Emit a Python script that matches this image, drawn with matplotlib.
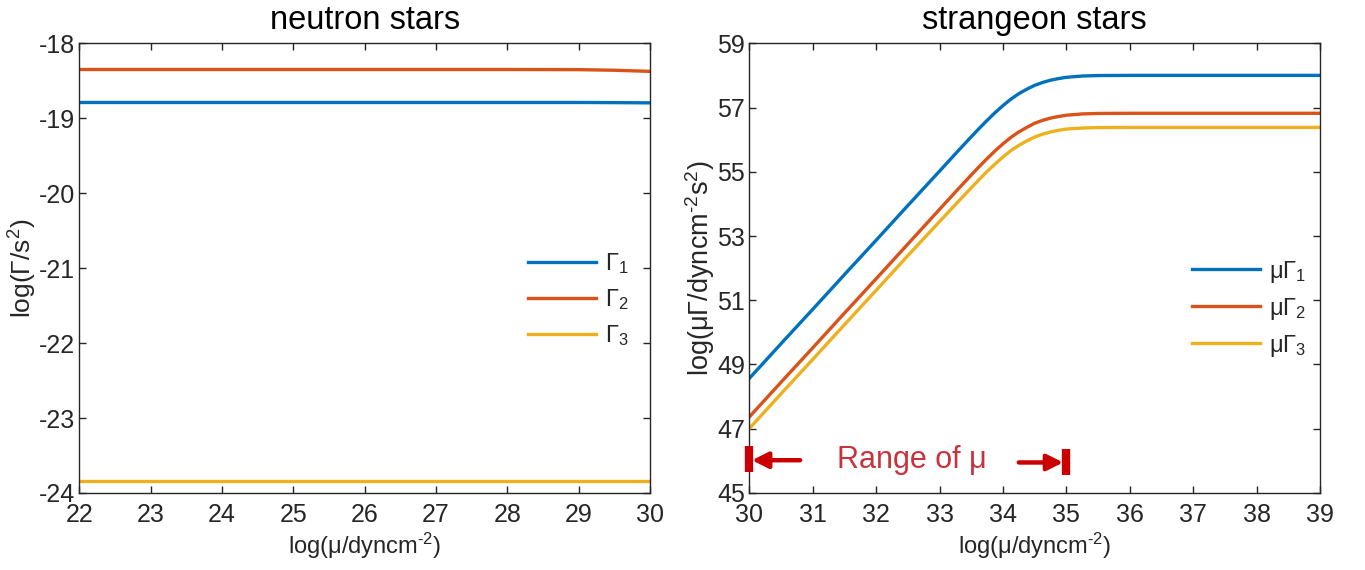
import matplotlib
matplotlib.use("Agg")
import matplotlib.pyplot as plt
import numpy as np

plt.rcParams['font.family'] = ['Liberation Sans', 'DejaVu Sans']
plt.rcParams['mathtext.fontset'] = 'custom'
plt.rcParams['mathtext.rm'] = 'Liberation Sans'
plt.rcParams['mathtext.it'] = 'Liberation Sans'
plt.rcParams['mathtext.default'] = 'regular'
plt.rcParams['axes.unicode_minus'] = False

# ---------------- data ----------------
# neutron stars (left)
ns_mu = [22, 23, 24, 25, 26, 27, 28, 29, 29.5, 30]
ns_gamma1 = [-18.79, -18.79, -18.79, -18.79, -18.79, -18.79, -18.79, -18.79, -18.792, -18.795]
ns_gamma2 = [-18.35, -18.35, -18.35, -18.35, -18.35, -18.35, -18.35, -18.352, -18.36, -18.375]
ns_gamma3 = [-23.84, -23.84, -23.84, -23.84, -23.84, -23.84, -23.84, -23.84, -23.84, -23.84]

# strangeon stars (right)
ss_mu = [30, 30.5, 31, 31.5, 32, 32.5, 33, 33.25, 33.5, 33.625, 33.75, 33.875,
         34, 34.125, 34.25, 34.375, 34.5, 34.625, 34.75, 34.875, 35, 35.25, 35.5,
         36, 37, 38, 39]
ss_mugamma1 = [48.57, 49.65, 50.72, 51.80, 52.87, 53.95, 55.02, 55.56, 56.09, 56.35,
               56.60, 56.84, 57.06, 57.26, 57.43, 57.57, 57.69, 57.78, 57.85, 57.90,
               57.94, 57.98, 57.995, 58.00, 58.00, 58.00, 58.00]
ss_mugamma2 = [47.37, 48.45, 49.52, 50.60, 51.67, 52.75, 53.83, 54.37, 54.90, 55.16,
               55.41, 55.65, 55.87, 56.07, 56.24, 56.38, 56.51, 56.60, 56.67, 56.72,
               56.76, 56.80, 56.815, 56.82, 56.82, 56.82, 56.82]
ss_mugamma3 = [47.01, 48.09, 49.16, 50.24, 51.31, 52.39, 53.45, 53.98, 54.50, 54.76,
               55.01, 55.24, 55.46, 55.66, 55.82, 55.96, 56.08, 56.17, 56.24, 56.29,
               56.33, 56.36, 56.375, 56.38, 56.38, 56.38, 56.38]

mu_range = [30, 35]
range_y = [46.07, 45.95]
range_label = 'Range of μ'

colors = ['#0072BD', '#D95319', '#EDB120']
lw = 2.4
axcol = '#262626'

fig = plt.figure(figsize=(13.65, 5.70), dpi=100)
ax1 = fig.add_axes([0.0582, 0.1351, 0.418, 0.789])
ax2 = fig.add_axes([0.549, 0.1351, 0.418, 0.789])

def style(ax):
    for s in ax.spines.values():
        s.set_color(axcol)
        s.set_linewidth(1.0)
    ax.tick_params(direction='in', length=5, width=1.0, colors=axcol,
                   labelsize=18, top=True, right=True)
    ax.tick_params(axis='x', pad=7)
    ax.tick_params(axis='y', pad=3)

xlab = r'log(μ/dyncm$^{\text{-}2}$)'

# left
ax1.plot(ns_mu, ns_gamma1, color=colors[0], lw=lw, label=r'$\Gamma_1$')
ax1.plot(ns_mu, ns_gamma2, color=colors[1], lw=lw, label=r'$\Gamma_2$')
ax1.plot(ns_mu, ns_gamma3, color=colors[2], lw=lw, label=r'$\Gamma_3$')
ax1.set_xlim(22, 30)
ax1.set_ylim(-24, -18)
ax1.set_xticks(range(22, 31))
ax1.set_yticks(range(-24, -17))
style(ax1)
ax1.set_title('neutron stars', fontsize=23.5, color='black', pad=10)
ax1.set_xlabel(xlab, fontsize=17, color=axcol, labelpad=3)
ax1.set_ylabel(r'log(Γ/s$^{2}$)', fontsize=19, color=axcol, labelpad=0)
leg1 = ax1.legend(loc='center right', bbox_to_anchor=(1.0, 0.43), frameon=False,
                  fontsize=17, handlelength=2.9, handletextpad=0.38, labelspacing=0.47)
for t in leg1.get_texts():
    t.set_color(axcol)

# right
ax2.plot(ss_mu, ss_mugamma1, color=colors[0], lw=lw, label=r'μ$\Gamma_1$')
ax2.plot(ss_mu, ss_mugamma2, color=colors[1], lw=lw, label=r'μ$\Gamma_2$')
ax2.plot(ss_mu, ss_mugamma3, color=colors[2], lw=lw, label=r'μ$\Gamma_3$')
ax2.set_xlim(30, 39)
ax2.set_ylim(45, 59)
ax2.set_xticks(range(30, 40))
ax2.set_yticks(range(45, 60, 2))
style(ax2)
ax2.set_title('strangeon stars', fontsize=23.5, color='black', pad=10)
ax2.set_xlabel(xlab, fontsize=17, color=axcol, labelpad=3)
ax2.set_ylabel(r'log(μΓ/dyncm$^{\text{-}2}$s$^{2}$)', fontsize=19.5, color=axcol, labelpad=0)
leg2 = ax2.legend(loc='center right', bbox_to_anchor=(1.014, 0.41), frameon=False,
                  fontsize=17, handlelength=2.9, handletextpad=0.38, labelspacing=0.47)
for t in leg2.get_texts():
    t.set_color(axcol)

# range annotation
red = '#CC0000'
ax2.plot(mu_range[:1], range_y[:1], linestyle='none', marker='|', markersize=19,
         markeredgewidth=6, color=red, clip_on=False, zorder=5)
ax2.plot(mu_range[1:], range_y[1:], linestyle='none', marker='|', markersize=19,
         markeredgewidth=6, color=red, clip_on=False, zorder=5)
ax2.annotate('', xy=(mu_range[0] + 0.04, range_y[0] - 0.05), xytext=(mu_range[0] + 0.8, range_y[0] - 0.05),
             arrowprops=dict(arrowstyle='-|>', color=red, lw=3.2, mutation_scale=24,
                             shrinkA=0, shrinkB=0))
ax2.annotate('', xy=(mu_range[1] - 0.05, range_y[1]), xytext=(mu_range[1] - 0.75, range_y[1]),
             arrowprops=dict(arrowstyle='-|>', color=red, lw=3.2, mutation_scale=24,
                             shrinkA=0, shrinkB=0))
ax2.text(np.mean(mu_range) + 0.07, np.mean(range_y) + 0.02, range_label, color='#C8323C',
         fontsize=22, ha='center', va='center')

fig.savefig('out.png', dpi=100)
